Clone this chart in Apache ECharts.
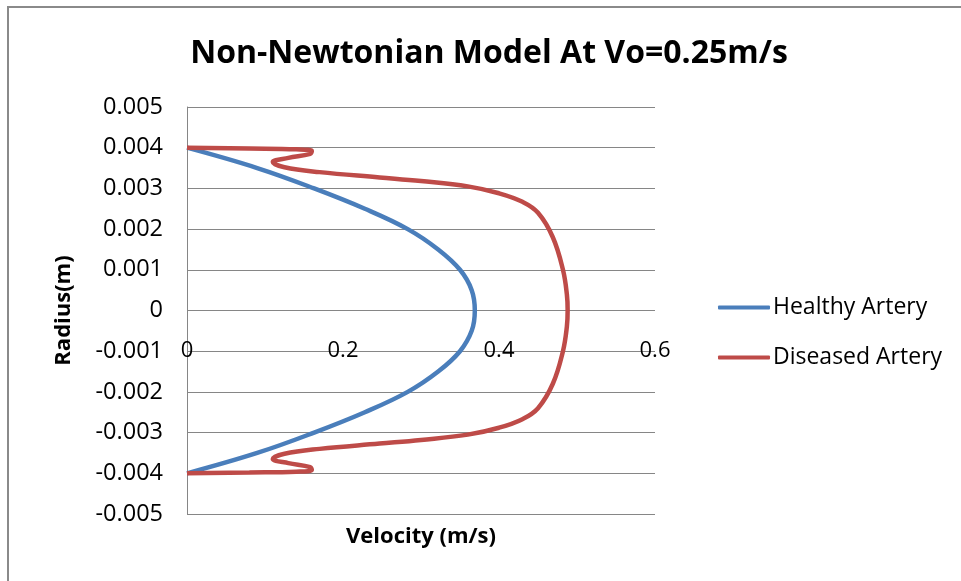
<!DOCTYPE html>
<html>
<head>
<meta charset="utf-8">
<script src="https://cdn.jsdelivr.net/npm/echarts@6/dist/echarts.min.js"></script>
<style>
html,body{margin:0;padding:0;background:#fff;}
#chart{width:961px;height:581px;}
</style>
</head>
<body>
<div id="chart"></div>
<script>
// Healthy artery: [velocity (m/s), radius (m)]
var healthyVelocity = [0, 0.090, 0.163, 0.228, 0.283, 0.322, 0.350, 0.365, 0.369, 0.365, 0.350, 0.322, 0.283, 0.228, 0.163, 0.090, 0];
var healthyRadius   = [0.004, 0.0035, 0.003, 0.0025, 0.002, 0.0015, 0.001, 0.0005, 0, -0.0005, -0.001, -0.0015, -0.002, -0.0025, -0.003, -0.0035, -0.004];

// Diseased artery: [velocity (m/s), radius (m)]
var diseasedVelocity = [0, 0.080, 0.140, 0.160, 0.158, 0.130, 0.110, 0.125, 0.170, 0.247, 0.300, 0.360, 0.400, 0.430, 0.450, 0.469, 0.482, 0.487, 0.488,
                        0.487, 0.482, 0.469, 0.450, 0.430, 0.400, 0.360, 0.300, 0.247, 0.170, 0.125, 0.110, 0.130, 0.158, 0.160, 0.140, 0.080, 0];
var diseasedRadius   = [0.004, 0.00398, 0.00396, 0.00392, 0.00385, 0.00375, 0.00365, 0.00352, 0.0034, 0.00327, 0.00318, 0.00305, 0.00288, 0.00267, 0.0024, 0.0018, 0.001, 0.0004, 0,
                        -0.0004, -0.001, -0.0018, -0.0024, -0.00267, -0.00288, -0.00305, -0.00318, -0.00327, -0.0034, -0.00352, -0.00365, -0.00375, -0.00385, -0.00392, -0.00396, -0.00398, -0.004];

var seriesNames = ['Healthy Artery', 'Diseased Artery'];
var chartTitle = 'Non-Newtonian Model At Vo=0.25m/s';
var xName = 'Velocity (m/s)';
var yName = 'Radius(m)';

function pairs(xs, ys) { return xs.map(function (v, i) { return [v, ys[i]]; }); }

var chart = echarts.init(document.getElementById('chart'));
var FONT = '"Open Sans"';
chart.setOption({
  backgroundColor: '#ffffff',
  animation: false,
  title: {
    text: chartTitle, left: 484, top: 33, textAlign: 'center',
    textStyle: { fontFamily: FONT, fontSize: 32, fontWeight: 'bold', color: '#000' }
  },
  legend: {
    orient: 'vertical', left: 713, top: 291, itemGap: 27, itemWidth: 52, itemHeight: 4,
    icon: 'roundRect',
    textStyle: { fontFamily: FONT, fontSize: 23, color: '#000', padding: [0, 0, 0, -2] },
    data: seriesNames
  },
  grid: { left: 187, right: 306, top: 107, bottom: 67, containLabel: false },
  xAxis: {
    type: 'value', min: 0, max: 0.6, interval: 0.2,
    name: xName, nameLocation: 'middle', nameGap: 12,
    nameTextStyle: { fontFamily: FONT, fontSize: 22, fontWeight: 'bold', color: '#000' },
    axisLine: { show: false }, axisTick: { show: false }, splitLine: { show: false },
    axisLabel: { margin: -174, fontFamily: FONT, fontSize: 22, color: '#000',
      formatter: function (v) { return v === 0 ? '0' : v.toFixed(1); } }
  },
  yAxis: {
    type: 'value', min: -0.005, max: 0.005, interval: 0.001,
    name: yName, nameLocation: 'middle', nameGap: 112, nameRotate: 90,
    nameTextStyle: { fontFamily: FONT, fontSize: 22, fontWeight: 'bold', color: '#000' },
    axisLine: { show: true, onZero: false, lineStyle: { color: '#868686', width: 1 } },
    axisTick: { show: false },
    splitLine: { show: true, lineStyle: { color: '#868686', width: 1 } },
    axisLabel: { margin: 24, fontFamily: FONT, fontSize: 23.5, color: '#000',
      formatter: function (v) { return Math.abs(v) < 1e-9 ? '0' : v.toFixed(3); } }
  },
  series: [
    { name: seriesNames[0], type: 'line', data: pairs(healthyVelocity, healthyRadius),
      smooth: 0.4, symbol: 'none', lineStyle: { color: '#4A7EBB', width: 4.5 }, itemStyle: { color: '#4A7EBB' } },
    { name: seriesNames[1], type: 'line', data: pairs(diseasedVelocity, diseasedRadius),
      smooth: 0.4, symbol: 'none', lineStyle: { color: '#BE4B48', width: 4.5 }, itemStyle: { color: '#BE4B48' } }
  ],
  graphic: [
    { type: 'line', shape: { x1: 7, y1: 7, x2: 961, y2: 7 }, style: { stroke: '#8a8a8a', lineWidth: 2 } },
    { type: 'line', shape: { x1: 8, y1: 7, x2: 8, y2: 581 }, style: { stroke: '#8a8a8a', lineWidth: 2 } }
  ]
});
</script>
</body>
</html>
